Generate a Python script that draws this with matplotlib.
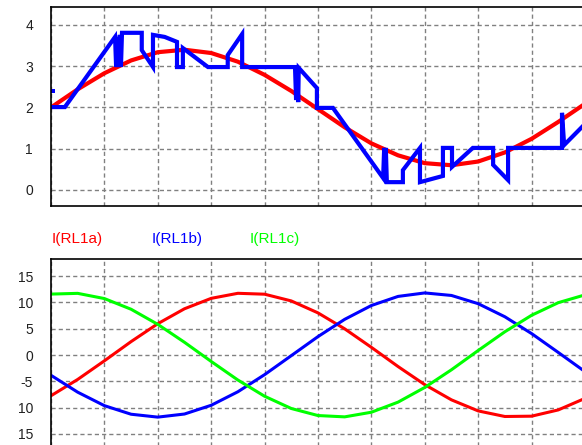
"""
Two stacked transient plots: a stepped control current vs its sine
reference on top, three-phase load currents below.
"""
import matplotlib
matplotlib.use("Agg")
import matplotlib.pyplot as plt

plt.rcParams['font.family'] = ['Liberation Sans', 'DejaVu Sans']

# ---- data ----
# top plot: sine reference (red) and stepped current (blue)
ref_x = [0.0, 0.5, 1.0, 1.5, 2.0, 2.5, 3.0, 3.5, 4.0, 4.5, 5.0,
         5.5, 6.0, 6.5, 7.0, 7.5, 8.0, 8.5, 9.0, 9.5, 10.0]
ref_y = [2.00, 2.44, 2.83, 3.14, 3.34, 3.40, 3.32, 3.11, 2.79, 2.40, 1.96,
         1.52, 1.13, 0.84, 0.65, 0.60, 0.69, 0.91, 1.24, 1.65, 2.09]

step_x = [0.00, 0.26, 1.20, 1.22, 1.24, 1.25, 1.29, 1.31, 1.33, 1.70,
          1.70, 1.91, 1.91, 2.13, 2.36, 2.36, 2.47, 2.47, 2.94, 3.31,
          3.31, 3.58, 3.58, 4.57, 4.59, 4.61, 4.63, 4.64, 4.98, 4.98,
          5.28, 6.22, 6.24, 6.25, 6.27, 6.29, 6.59, 6.59, 6.91, 6.91,
          7.34, 7.34, 7.51, 7.51, 7.90, 8.28, 8.28, 8.56, 8.56, 9.57,
          9.57, 9.61, 10.0]
step_y = [2.01, 2.01, 3.71, 2.98, 3.71, 2.98, 3.76, 2.98, 3.81, 3.81,
          3.39, 2.98, 3.76, 3.71, 3.59, 2.98, 2.98, 3.44, 2.98, 2.98,
          3.27, 3.78, 2.98, 2.98, 2.18, 2.98, 2.13, 2.96, 2.47, 1.99,
          1.99, 0.29, 1.02, 0.24, 1.02, 0.19, 0.19, 0.48, 1.02, 0.19,
          0.34, 1.02, 1.02, 0.56, 1.02, 1.02, 0.61, 0.24, 1.02, 1.02,
          1.87, 1.09, 1.60]
stray_x = [0.03]
stray_y = [2.40]

# bottom plot: three phase currents
phase_x = ref_x
i_a = [-7.74, -4.64, -1.10, 2.55, 5.95, 8.79, 10.77, 11.73, 11.56, 10.28, 8.01,
       4.98, 1.46, -2.19, -5.63, -8.52, -10.62, -11.68, -11.62, -10.43, -8.24]
i_b = [-3.85, -7.06, -9.62, -11.25, -11.80, -11.21, -9.55, -6.98, -3.73, -0.12, 3.50,
       6.78, 9.41, 11.14, 11.80, 11.32, 9.76, 7.27, 4.08, 0.49, -3.15]
i_c = [11.58, 11.72, 10.73, 8.70, 5.83, 2.42, -1.22, -4.75, -7.83, -10.16, -11.50,
       -11.75, -10.87, -8.95, -6.16, -2.80, 0.86, 4.42, 7.55, 9.95, 11.43]
phase_names = ['I(RL1a)', 'I(RL1b)', 'I(RL1c)']

top_ticks = [0, 1, 2, 3, 4]
bot_ticks = [-15, -10, -5, 0, 5, 10, 15]
bot_labels = ['15', '10', '-5', '0', '5', '10', '15']
x_grid = list(range(0, 11))

RED = '#ff0000'
BLUE = '#0000ff'
GREEN = '#00ff00'
GRID = '#808080'


def style_axes(ax):
    ax.set_xlim(0, 10)
    ax.set_xticks(x_grid)
    ax.tick_params(axis='x', length=0, labelbottom=False)
    ax.tick_params(axis='y', length=0, pad=13, labelsize=10, labelcolor='#202020')
    ax.grid(True, color=GRID, linestyle=(0, (3, 2.2)), linewidth=1)
    ax.set_axisbelow(True)
    for sp in ax.spines.values():
        sp.set_color('black')
        sp.set_linewidth(1.2)


fig = plt.figure(figsize=(5.82, 4.45), dpi=100)

# top plot
ax1 = fig.add_axes([0.0876, 0.5371, 0.9175, 0.4472])
ax1.plot(ref_x, ref_y, color=RED, linewidth=3, solid_capstyle='butt')
ax1.plot(step_x, step_y, color=BLUE, linewidth=3, solid_joinstyle='miter')
ax1.plot(stray_x, stray_y, 's', color=BLUE, markersize=2.2, markeredgewidth=0)
ax1.set_ylim(-0.388, 4.436)
ax1.set_yticks(top_ticks)
style_axes(ax1)

# bottom plot
ax2 = fig.add_axes([0.0876, -0.0225, 0.9175, 0.4405])
ax2.plot(phase_x, i_a, color=RED, linewidth=2.2)
ax2.plot(phase_x, i_b, color=BLUE, linewidth=2.2)
ax2.plot(phase_x, i_c, color=GREEN, linewidth=2.2)
ax2.set_ylim(-19.0, 18.25)
ax2.set_yticks(bot_ticks)
ax2.set_yticklabels(bot_labels)
style_axes(ax2)

# trace names above the bottom plot
for name, col, xpos in zip(phase_names, [RED, BLUE, GREEN], [0.0893, 0.261, 0.4296]):
    fig.text(xpos, 0.463, name, color=col, fontsize=11, va='center', ha='left')

fig.savefig('out.png', dpi=100)
